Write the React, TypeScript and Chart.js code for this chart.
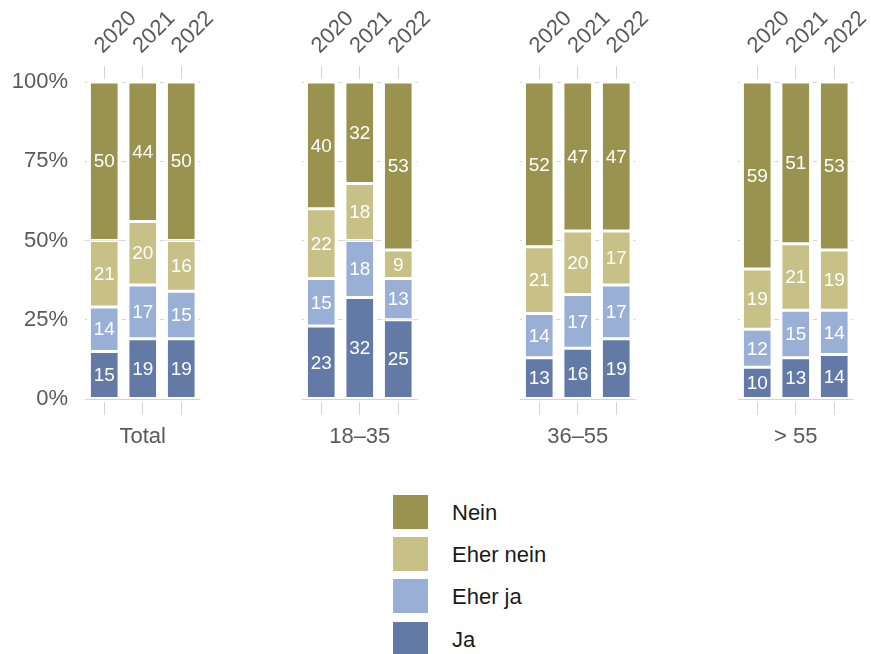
import React, { useEffect, useRef } from 'react';
import { Chart, registerables } from 'chart.js';

Chart.register(...registerables);

// ---- data ----
const years = ['2020', '2021', '2022'];
const groups = ['Total', '18–35', '36–55', '> 55'];
const seriesNames = ['Ja', 'Eher ja', 'Eher nein', 'Nein'];
const seriesColors = ['#6379a6', '#9aafd6', '#c7c187', '#9a934f'];
// values per group (Total, 18–35, 36–55, > 55) × year (2020, 2021, 2022)
const ja = [15, 19, 19, 23, 32, 25, 13, 16, 19, 10, 13, 14];
const eherJa = [14, 17, 15, 15, 18, 13, 14, 17, 17, 12, 15, 14];
const eherNein = [21, 20, 16, 22, 18, 9, 21, 20, 17, 19, 21, 19];
const nein = [50, 44, 50, 40, 32, 53, 52, 47, 47, 59, 51, 53];
const seriesValues = [ja, eherJa, eherNein, nein];
const yTicks = [0, 25, 50, 75, 100];

// ---- layout ----
const FONT = '"Liberation Sans", Arial, Helvetica, sans-serif';
const AXIS_COLOR = '#5a5a5a';
const GRID_COLOR = '#d4d4d4';
const CANVAS_H = 460;
const PLOT_TOP = 82;
const PLOT_BOTTOM = 399;
const Y_AXIS_W = 85;
const PLOT_W = 115.5;
const PAD_RIGHT = 44.5;
const PAD_LEFT = 30;
const PANEL_STEP = 218;

Chart.defaults.font.family = FONT;

const valueLabels = {
  id: 'valueLabels',
  afterDatasetsDraw(chart: any) {
    const ctx = chart.ctx;
    ctx.save();
    ctx.font = `19px ${FONT}`;
    ctx.fillStyle = '#ffffff';
    ctx.textAlign = 'center';
    ctx.textBaseline = 'middle';
    chart.data.datasets.forEach((ds: any, di: number) => {
      const meta = chart.getDatasetMeta(di);
      meta.data.forEach((el: any, i: number) => {
        const p = el.getCenterPoint();
        ctx.fillText(String(ds.data[i]), p.x, p.y + 1);
      });
    });
    ctx.restore();
  },
};

function Panel({ idx }: { idx: number }) {
  const ref = useRef<HTMLCanvasElement>(null);
  const first = idx === 0;
  const padLeft = first ? 0 : PAD_LEFT;
  const left = first ? 0 : Y_AXIS_W - 1 + idx * PANEL_STEP - PAD_LEFT;
  const width = (first ? Y_AXIS_W : PAD_LEFT) + PLOT_W + PAD_RIGHT;

  useEffect(() => {
    if (!ref.current) return;
    const datasets = seriesNames.map((name, s) => ({
      label: name,
      data: seriesValues[s].slice(idx * 3, idx * 3 + 3),
      backgroundColor: seriesColors[s],
      borderColor: '#ffffff',
      borderWidth: { top: 1.5, bottom: 1.5, left: 4, right: 4 },
      borderSkipped: false,
      barPercentage: 0.9,
      categoryPercentage: 1,
      xAxisID: 'x',
      yAxisID: 'y',
    }));
    const chart = new Chart(ref.current, {
      type: 'bar',
      data: { labels: years, datasets },
      plugins: [valueLabels],
      options: {
        animation: false,
        responsive: false,
        devicePixelRatio: 1,
        layout: { padding: { left: padLeft, right: PAD_RIGHT, top: 0, bottom: 0 } },
        plugins: { legend: { display: false }, tooltip: { enabled: false } },
        scales: {
          x: {
            type: 'category',
            position: 'top',
            stacked: true,
            offset: true,
            border: { display: false },
            grid: {
              offset: false,
              drawOnChartArea: false,
              drawTicks: true,
              tickLength: 16,
              tickColor: GRID_COLOR,
              tickWidth: 1,
              tickBorderDash: [13, 100],
            },
            ticks: {
              autoSkip: false,
              minRotation: 45,
              maxRotation: 45,
              padding: 7,
              labelOffset: 13,
              color: AXIS_COLOR,
              font: { size: 22, family: FONT },
            },
            afterFit: (scale: any) => {
              scale.height = PLOT_TOP;
            },
          },
          x2: {
            type: 'category',
            position: 'bottom',
            offset: true,
            border: { display: false },
            grid: {
              offset: false,
              drawOnChartArea: false,
              drawTicks: true,
              tickLength: 16,
              tickColor: GRID_COLOR,
              tickWidth: 1,
              tickBorderDash: [0, 3, 13, 100],
            },
            ticks: { display: false },
            title: {
              display: true,
              text: groups[idx],
              color: AXIS_COLOR,
              font: { size: 22, family: FONT },
              padding: { top: 0, bottom: 9.8 },
            },
            afterFit: (scale: any) => {
              scale.height = CANVAS_H - PLOT_BOTTOM;
            },
          },
          y: {
            type: 'linear',
            stacked: true,
            min: 0,
            max: 100,
            border: { display: false },
            grid: { color: GRID_COLOR, lineWidth: 1, drawTicks: false },
            afterBuildTicks: (scale: any) => {
              scale.ticks = yTicks.map((v) => ({ value: v }));
            },
            ticks: {
              display: first,
              padding: 17,
              color: AXIS_COLOR,
              font: { size: 22, family: FONT },
              callback: (v: any) => `${v}%`,
            },
            afterFit: (scale: any) => {
              scale.width = first ? Y_AXIS_W : 0;
            },
          },
        },
      } as any,
    });
    return () => chart.destroy();
  }, [idx]);

  return (
    <canvas
      ref={ref}
      width={width}
      height={CANVAS_H}
      style={{ position: 'absolute', left, top: 0, width, height: CANVAS_H }}
    />
  );
}

export default function App() {
  const legendOrder = [3, 2, 1, 0];
  return (
    <div
      style={{
        position: 'absolute',
        left: 0,
        top: 0,
        width: 871,
        height: 654,
        overflow: 'hidden',
        background: '#ffffff',
      }}
    >
      {groups.map((g, i) => (
        <Panel key={g} idx={i} />
      ))}
      <div style={{ position: 'absolute', left: 393, top: 495 }}>
        {legendOrder.map((s, k) => (
          <div
            key={seriesNames[s]}
            style={{ position: 'absolute', left: 0, top: k * 42.2, height: 34, width: 200 }}
          >
            <div
              style={{
                position: 'absolute',
                left: 0,
                top: 0,
                width: 35,
                height: 34,
                background: seriesColors[s],
              }}
            />
            <div
              style={{
                position: 'absolute',
                left: 59,
                top: 1,
                height: 34,
                lineHeight: '34px',
                fontFamily: FONT,
                fontSize: 22,
                color: '#1a1a1a',
                whiteSpace: 'nowrap',
              }}
            >
              {seriesNames[s]}
            </div>
          </div>
        ))}
      </div>
    </div>
  );
}
